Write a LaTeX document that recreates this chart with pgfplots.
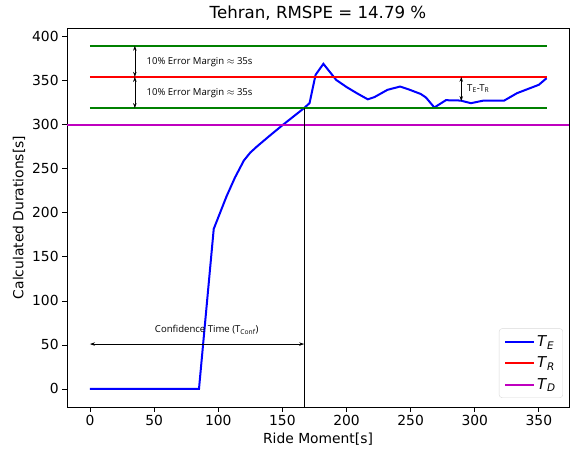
\documentclass[border=0pt]{standalone}
\usepackage{pgfplots}
\pgfplotsset{compat=1.18}
\usepackage{fontspec}
\setmainfont{DejaVu Sans}
\newfontfamily\annot{Open Sans}
\usetikzlibrary{arrows.meta}
\definecolor{mplgreen}{rgb}{0,0.5,0}
\definecolor{mplmag}{rgb}{0.75,0,0.75}
\begin{document}
\begin{tikzpicture}
\begin{axis}[
  name=ax,
  scale only axis,
  width=502bp, height=379bp,
  xmin=-17.9, xmax=373.5, ymin=-20.5, ymax=410,
  xtick={0,50,...,350}, ytick={0,50,...,400},
  tick align=outside, xtick pos=bottom, ytick pos=left,
  major tick length=4.9bp,
  tick style={black, line width=0.8bp},
  axis line style={line width=0.8bp},
  /pgf/number format/assume math mode=true,
  ticklabel style={font=\fontsize{13.9}{16}\selectfont},
  label style={font=\fontsize{13.9}{16}\selectfont},
  xlabel={Ride Moment[s]}, ylabel={Calculated Durations[s]},
  title={Tehran, RMSPE = 14.79 \%},
  title style={font=\fontsize{16.7}{19}\selectfont, yshift=-2bp},
  legend style={at={(rel axis cs:0.988,0.024)}, anchor=south east, draw=black!15, rounded corners=3bp, font=\fontsize{15}{17}\selectfont, row sep=5bp, inner xsep=5bp, inner ysep=5bp},
  legend cell align=left,
  legend image code/.code={\draw[#1, line width=2bp] (0bp,0bp) -- (29bp,0bp);},
  every axis plot/.append style={line width=2bp},
]
\addplot[blue, no marks] coordinates {
(0,0) (85,0) (96.5,181.8) (106.4,218.5) (113,240) (120,259.5) (125,268.5) (130.2,275.4) (140,287.5) (150,299.5) (160,311) (166.5,318.5) (171.2,324.6) (175.9,356.8) (182,369.3) (192,351) (200,343) (208,336) (216.6,329) (221.8,331.5) (232,339.8) (241.8,343.5) (249,340) (258,335) (262,331) (268.5,319.7) (277.5,328) (289,327.6) (297,324.6) (307,327.6) (323,327.6) (333,336) (350,345.5) (356,353)
};
\addlegendentry{\textit{T}\textsubscript{\textit{E}}}
\addplot[red, no marks] coordinates {(0,354.5) (356,354.5)};
\addlegendentry{\textit{T}\textsubscript{\textit{R}}}
\addplot[mplmag, no marks] coordinates {(-17.9,300) (373.5,300)};
\addlegendentry{\textit{T}\textsubscript{\textit{D}}}
\addplot[mplgreen, no marks, forget plot] coordinates {(0,389.8) (356,389.8)};
\addplot[mplgreen, no marks, forget plot] coordinates {(0,319) (356,319)};
\addplot[black, no marks, line width=1.2bp, forget plot] coordinates {(167,-20.5) (167,319)};
% annotations
\draw[{Stealth[length=5bp,width=3.5bp]}-{Stealth[length=5bp,width=3.5bp]}, line width=0.7bp] (axis cs:35,354.5) -- (axis cs:35,389.8);
\draw[{Stealth[length=5bp,width=3.5bp]}-{Stealth[length=5bp,width=3.5bp]}, line width=0.7bp] (axis cs:35,319) -- (axis cs:35,354.5);
\node[anchor=west, font=\annot\fontsize{9.6}{11}\selectfont, inner sep=0pt] at (axis cs:44,371.5) {10\% Error Margin $\approx$ 35s};
\node[anchor=west, font=\annot\fontsize{9.6}{11}\selectfont, inner sep=0pt] at (axis cs:44,336.5) {10\% Error Margin $\approx$ 35s};
\draw[{Stealth[length=5bp,width=3.5bp]}-{Stealth[length=5bp,width=3.5bp]}, line width=0.7bp] (axis cs:289.5,327) -- (axis cs:289.5,354.5);
\node[anchor=west, font=\annot\fontsize{9.6}{11}\selectfont, inner sep=0pt] at (axis cs:294,341) {T\textsubscript{E}-T\textsubscript{R}};
\draw[{Stealth[length=5bp,width=3.5bp]}-{Stealth[length=5bp,width=3.5bp]}, line width=0.7bp] (axis cs:0,51) -- (axis cs:167,51);
\node[font=\annot\fontsize{9.6}{11}\selectfont, inner sep=0pt] at (axis cs:91,67) {Confidence Time (T\textsubscript{Conf})};
\coordinate (bl) at (rel axis cs:-0.1335,-0.1187);
\coordinate (tr) at (rel axis cs:1.002,1.0739);
\end{axis}
\path (bl) rectangle (tr);
\end{tikzpicture}
\end{document}
